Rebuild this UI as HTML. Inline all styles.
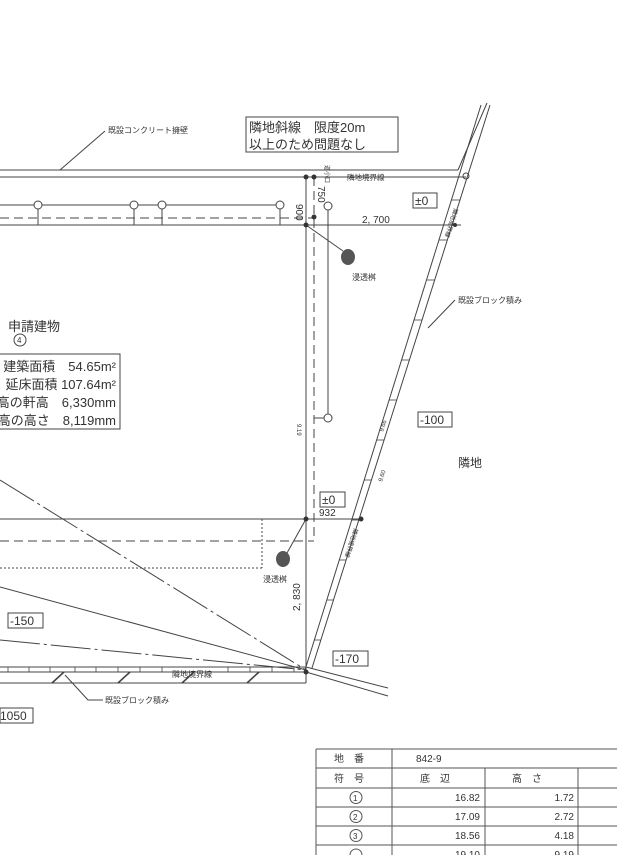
<!DOCTYPE html>
<html><head><meta charset="utf-8"><style>
html,body{margin:0;padding:0;background:#fff;}
svg{display:block;}
text{font-family:"Liberation Sans","Noto Sans CJK JP",sans-serif;fill:#333;}
</style></head><body>
<svg width="617" height="855" viewBox="0 0 617 855" xmlns="http://www.w3.org/2000/svg">
<g stroke="#444" stroke-width="1" fill="none">
<line x1="0" y1="170" x2="458" y2="170"/>
<line x1="458" y1="170" x2="487" y2="103"/>
<line x1="0" y1="177" x2="466" y2="177"/>
<circle cx="466" cy="176" r="3"/>
<line x1="105" y1="131" x2="60" y2="170"/>
<line x1="481" y1="105" x2="305" y2="670"/>
<line x1="490" y1="105" x2="312" y2="668"/>
<g stroke-width="0.8">
<line x1="451.4" y1="200" x2="460" y2="200"/><line x1="439" y1="240" x2="447.3" y2="240"/>
<line x1="426.5" y1="280" x2="434.7" y2="280"/><line x1="414" y1="320" x2="422" y2="320"/>
<line x1="401.5" y1="360" x2="409.4" y2="360"/><line x1="389" y1="400" x2="396.8" y2="400"/>
<line x1="376.5" y1="440" x2="384.1" y2="440"/><line x1="364" y1="480" x2="371.5" y2="480"/>
<line x1="351.6" y1="520" x2="358.9" y2="520"/><line x1="339.3" y1="560" x2="346.2" y2="560"/>
<line x1="327" y1="600" x2="333.5" y2="600"/><line x1="314.3" y1="640" x2="320.9" y2="640"/>
</g>
<line x1="455" y1="300" x2="428" y2="328"/>
<line x1="0" y1="205" x2="280" y2="205"/>
<line x1="0" y1="218" x2="314" y2="218" stroke-dasharray="9,5"/>
<line x1="0" y1="225" x2="461" y2="225"/>
<circle cx="38" cy="205" r="4" fill="#fff"/><line x1="38" y1="209" x2="38" y2="225"/>
<circle cx="134" cy="205" r="4" fill="#fff"/><line x1="134" y1="209" x2="134" y2="225"/>
<circle cx="162" cy="205" r="4" fill="#fff"/><line x1="162" y1="209" x2="162" y2="225"/>
<circle cx="280" cy="205" r="4" fill="#fff"/><line x1="280" y1="209" x2="280" y2="225"/>
<line x1="306" y1="177" x2="306" y2="672"/>
<line x1="314" y1="177" x2="314" y2="541" stroke-dasharray="9,5"/>
<line x1="328" y1="210" x2="328" y2="414"/>
<circle cx="328" cy="206" r="4"/>
<circle cx="328" cy="418" r="4"/>
<line x1="314" y1="418" x2="324" y2="418"/>
<line x1="306" y1="225" x2="343" y2="251"/>
<line x1="0" y1="519" x2="361" y2="519"/>
<line x1="0" y1="541" x2="314" y2="541" stroke-dasharray="9,5"/>
<line x1="262" y1="519" x2="262" y2="568" stroke-dasharray="2,2"/>
<line x1="0" y1="568" x2="262" y2="568" stroke-dasharray="2,2"/>
<line x1="306" y1="519" x2="287" y2="553"/>
<line x1="0" y1="480" x2="306" y2="670" stroke-dasharray="40,4,3,4"/>
<line x1="0" y1="587" x2="306" y2="670"/>
<line x1="0" y1="640" x2="306" y2="670" stroke-dasharray="40,4,3,4"/>
<line x1="306" y1="667" x2="388" y2="688"/>
<line x1="306" y1="672" x2="388" y2="696"/>
<line x1="0" y1="667" x2="306" y2="667"/>
<line x1="0" y1="672" x2="306" y2="672"/>
<line x1="0" y1="683" x2="306" y2="683"/>
<line x1="306" y1="667" x2="306" y2="683"/>
<g stroke-width="0.8">
<line x1="8" y1="667" x2="8" y2="672"/><line x1="29" y1="667" x2="29" y2="672"/><line x1="50" y1="667" x2="50" y2="672"/><line x1="75" y1="667" x2="75" y2="672"/><line x1="96" y1="667" x2="96" y2="672"/><line x1="118" y1="667" x2="118" y2="672"/><line x1="140" y1="667" x2="140" y2="672"/><line x1="162" y1="667" x2="162" y2="672"/><line x1="228" y1="667" x2="228" y2="672"/><line x1="250" y1="667" x2="250" y2="672"/><line x1="272" y1="667" x2="272" y2="672"/><line x1="294" y1="667" x2="294" y2="672"/>
</g>
<g stroke-width="1.6"><line x1="52" y1="683" x2="64" y2="672"/><line x1="118" y1="683" x2="130" y2="672"/><line x1="182" y1="683" x2="194" y2="672"/><line x1="247" y1="683" x2="259" y2="672"/></g>
<polyline points="65,675 88,700 103,700"/>
<rect x="246" y="117" width="152" height="35"/>
<rect x="413" y="193" width="24" height="15"/>
<rect x="418" y="412" width="34" height="15"/>
<rect x="320" y="492" width="25" height="15"/>
<rect x="333" y="651" width="35" height="15"/>
<rect x="8" y="613" width="35" height="15"/>
<rect x="0" y="708" width="33" height="15"/>
<rect x="-5" y="354" width="125" height="75"/>
<circle cx="20" cy="340" r="6"/>
</g>
<g fill="#333">
<circle cx="306" cy="177" r="2.5"/><circle cx="314" cy="177" r="2.5"/><circle cx="314" cy="217" r="2.5"/><circle cx="306" cy="225" r="2.5"/>
<circle cx="306" cy="519" r="2.5"/><circle cx="361" cy="519" r="2.5"/><circle cx="306" cy="672" r="2.5"/><circle cx="455" cy="225" r="2"/>
<ellipse cx="348" cy="257" rx="7" ry="8" fill="#555"/>
<ellipse cx="283" cy="559" rx="7" ry="8" fill="#555"/>
</g>
<g font-size="8">
<text x="108" y="133">既設コンクリート擁壁</text>
<text x="347" y="180" font-size="7.5">隣地境界線</text>
<text x="352" y="280">浸透桝</text>
<text x="458" y="303">既設ブロック積み</text>
<text x="263" y="582">浸透桝</text>
<text x="172" y="677">隣地境界線</text>
<text x="105" y="703">既設ブロック積み</text>
</g>
<g font-size="13">
<text x="249" y="132">隣地斜線　限度20m</text>
<text x="249" y="149">以上のため問題なし</text>
<text x="8" y="331">申請建物</text>
<text x="458" y="467" font-size="12">隣地</text>
<text x="116" y="371" text-anchor="end">建築面積　54.65m²</text>
<text x="116" y="389" text-anchor="end">延床面積 107.64m²</text>
<text x="116" y="407" text-anchor="end">最高の軒高　6,330mm</text>
<text x="116" y="425" text-anchor="end">最高の高さ　8,119mm</text>
<text x="415" y="205" font-size="12">±0</text>
<text x="420" y="424" font-size="12">-100</text>
<text x="322" y="504" font-size="12">±0</text>
<text x="335" y="663" font-size="12">-170</text>
<text x="10" y="625" font-size="12">-150</text>
<text x="0" y="720" font-size="12">1050</text>
</g>
<text x="17" y="343" font-size="8">4</text>
<g font-size="10">
<text x="362" y="223">2, 700</text>
<text x="319" y="516">932</text>
<text transform="translate(296,204) rotate(90)">900</text>
<text transform="translate(318,186) rotate(90)">750</text>
<text transform="translate(300,611) rotate(-90)">2, 830</text>
</g>
<g font-size="6">
<text transform="translate(297,424) rotate(90)">9.19</text>
<text transform="translate(383,432) rotate(-72)">9.66</text>
<text transform="translate(382,482) rotate(-72)">9.60</text>
<text transform="translate(325,165) rotate(90)">道小口</text>
<text transform="translate(454,208) rotate(108)">隣地境界線</text>
<text transform="translate(354,528) rotate(108)">隣地境界線</text>
</g>
<g stroke="#555" stroke-width="1" fill="none">
<line x1="316" y1="749" x2="617" y2="749"/>
<line x1="316" y1="768" x2="617" y2="768"/>
<line x1="316" y1="788" x2="617" y2="788"/>
<line x1="316" y1="807" x2="617" y2="807"/>
<line x1="316" y1="826" x2="617" y2="826"/>
<line x1="316" y1="845" x2="617" y2="845"/>
<line x1="316" y1="749" x2="316" y2="855"/>
<line x1="392" y1="749" x2="392" y2="855"/>
<line x1="485" y1="768" x2="485" y2="855"/>
<line x1="578" y1="768" x2="578" y2="855"/>
<circle cx="356" cy="797.5" r="6"/><circle cx="356" cy="816.5" r="6"/><circle cx="356" cy="835.5" r="6"/><circle cx="356" cy="855" r="6"/>
</g>
<g font-size="10">
<text x="334" y="762">地　番</text>
<text x="416" y="762">842-9</text>
<text x="334" y="782">符　号</text>
<text x="420" y="782">底　辺</text>
<text x="512" y="782">高　さ</text>
<text x="353" y="801" font-size="8">1</text><text x="353" y="820" font-size="8">2</text><text x="353" y="839" font-size="8">3</text>
<text x="480" y="801" text-anchor="end">16.82</text><text x="574" y="801" text-anchor="end">1.72</text>
<text x="480" y="820" text-anchor="end">17.09</text><text x="574" y="820" text-anchor="end">2.72</text>
<text x="480" y="839" text-anchor="end">18.56</text><text x="574" y="839" text-anchor="end">4.18</text>
<text x="480" y="858" text-anchor="end">19.10</text><text x="574" y="858" text-anchor="end">9.19</text>
</g>
</svg>
</body></html>
